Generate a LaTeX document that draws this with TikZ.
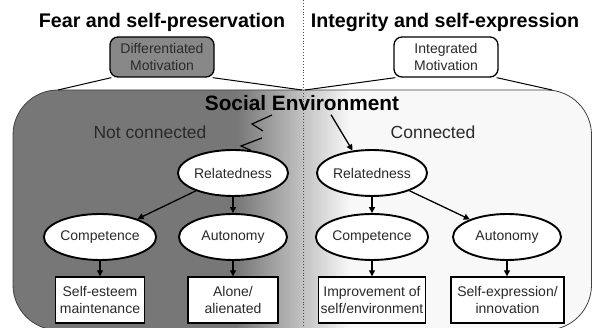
\documentclass[tikz,border=0pt]{standalone}
\usepackage{fontspec}
\setmainfont{Liberation Sans}
\usetikzlibrary{arrows.meta,shapes.geometric}
\definecolor{darkbg}{HTML}{777777}
\definecolor{lightbg}{HTML}{F8F8F8}
\definecolor{boxgray}{HTML}{888888}
\definecolor{txt}{HTML}{2A2A2A}
\begin{document}
\begin{tikzpicture}[x=1pt,y=-1pt,
  titlefont/.style={font=\bfseries\fontsize{19.7}{22}\selectfont, text=black},
  labelfont/.style={font=\fontsize{17.5}{20}\selectfont, text=txt},
  nodefont/.style={font=\fontsize{14}{16.8}\selectfont, text=txt, align=center},
  topbox/.style={nodefont, draw=black, line width=1.3pt, rounded corners=8pt,
    minimum width=104pt, minimum height=40pt, inner sep=0pt},
  oval/.style={nodefont, ellipse, draw=black, fill=white, line width=1.9pt,
    minimum width=108pt, minimum height=46pt, inner sep=0pt},
  outbox/.style={nodefont, rectangle, draw=black, fill=white, line width=1.4pt,
    minimum height=46pt, inner sep=2pt},
  arr/.style={line width=1.3pt, -{Triangle[length=6pt,width=6pt]}},
  thin line/.style={line width=1pt, draw=black}
]
\useasboundingbox (0,0) rectangle (592,328);

% background of the social environment
\begin{scope}
  \clip[rounded corners=45pt] (13,90) rectangle (591.5,330);
  \fill[darkbg] (0,80) rectangle (237,340);
  \shade[left color=darkbg, right color=lightbg] (236.5,80) rectangle (350.5,340);
  \fill[lightbg] (350,80) rectangle (600,340);
\end{scope}
\draw[rounded corners=45pt, draw=black!75, line width=0.8pt] (13,90) rectangle (591.5,330);

% dotted divider
\draw[dotted, draw=black!70, line width=0.9pt] (303,0) -- (303,328);

% titles
\node[titlefont, anchor=base] (t1) at (162,27.5) {Fear and self-preservation};
\node[titlefont, anchor=base] (t2) at (445,27.5) {Integrity and self-expression};

% motivation boxes
\node[topbox, fill=boxgray] (dm) at (162,57) {Differentiated\\Motivation};
\node[topbox, fill=white] (im) at (446,57) {Integrated\\Motivation};

\coordinate (tl) at (58,90);
\coordinate (tm1) at (302,90);
\coordinate (tm2) at (305,90);
\coordinate (tr) at (552,90);
\draw[thin line] ([xshift=2pt]dm.south west) -- (tl);
\draw[thin line] ([xshift=-2pt]dm.south east) -- (tm1);
\draw[thin line] ([xshift=2pt]im.south west) -- (tm2);
\draw[thin line] ([xshift=-2pt]im.south east) -- (tr);

% labels
\node[titlefont, font=\bfseries\fontsize{20.8}{24}\selectfont, anchor=base] (se) at (302,111) {Social Environment};
\node[labelfont, anchor=base] (nc) at (150,139) {Not connected};
\node[labelfont, anchor=base] (cn) at (433,139) {Connected};

% ellipses
\node[oval] (lrel) at (233,173) {Relatedness};
\node[oval] (rrel) at (372,173) {Relatedness};
\node[oval] (lcomp) at (100,237) {Competence};
\node[oval] (lauto) at (233,237) {Autonomy};
\node[oval] (rcomp) at (372,237) {Competence};
\node[oval] (rauto) at (507,237) {Autonomy};

% outcome boxes
\node[outbox, minimum width=89pt] (lb1) at (100,300) {Self-esteem\\maintenance};
\node[outbox, minimum width=90pt] (lb2) at (233,300) {Alone/\\alienated};
\node[outbox, minimum width=107pt] (rb1) at (372,300) {Improvement of\\self/environment};
\node[outbox, minimum width=113pt] (rb2) at (507.5,300) {Self-expression/\\innovation};

% broken connection (not connected)
\coordinate (z1) at (272,115);
\coordinate (z2) at (252,124);
\coordinate (z3) at (263,131);
\coordinate (z4) at (262,138);
\coordinate (z5) at (241,146);
\draw[line width=1.2pt] (z1) -- (z2) -- (z3);
\draw[line width=1.2pt] (z4) -- (z5) -- (lrel.52);

% connected
\draw[arr] ([xshift=29pt]se.south) -- (rrel.131);

% arrows left
\draw[arr] (lrel) -- (lcomp);
\draw[arr] (lrel) -- (lauto);
\draw[arr] (lcomp) -- (lb1);
\draw[arr] (lauto) -- (lb2);

% arrows right
\draw[arr] (rrel) -- (rcomp);
\draw[arr] (rrel) -- (rauto);
\draw[arr] (rcomp) -- (rb1);
\draw[arr] (rauto) -- (rb2.north -| rauto);
\end{tikzpicture}
\end{document}
